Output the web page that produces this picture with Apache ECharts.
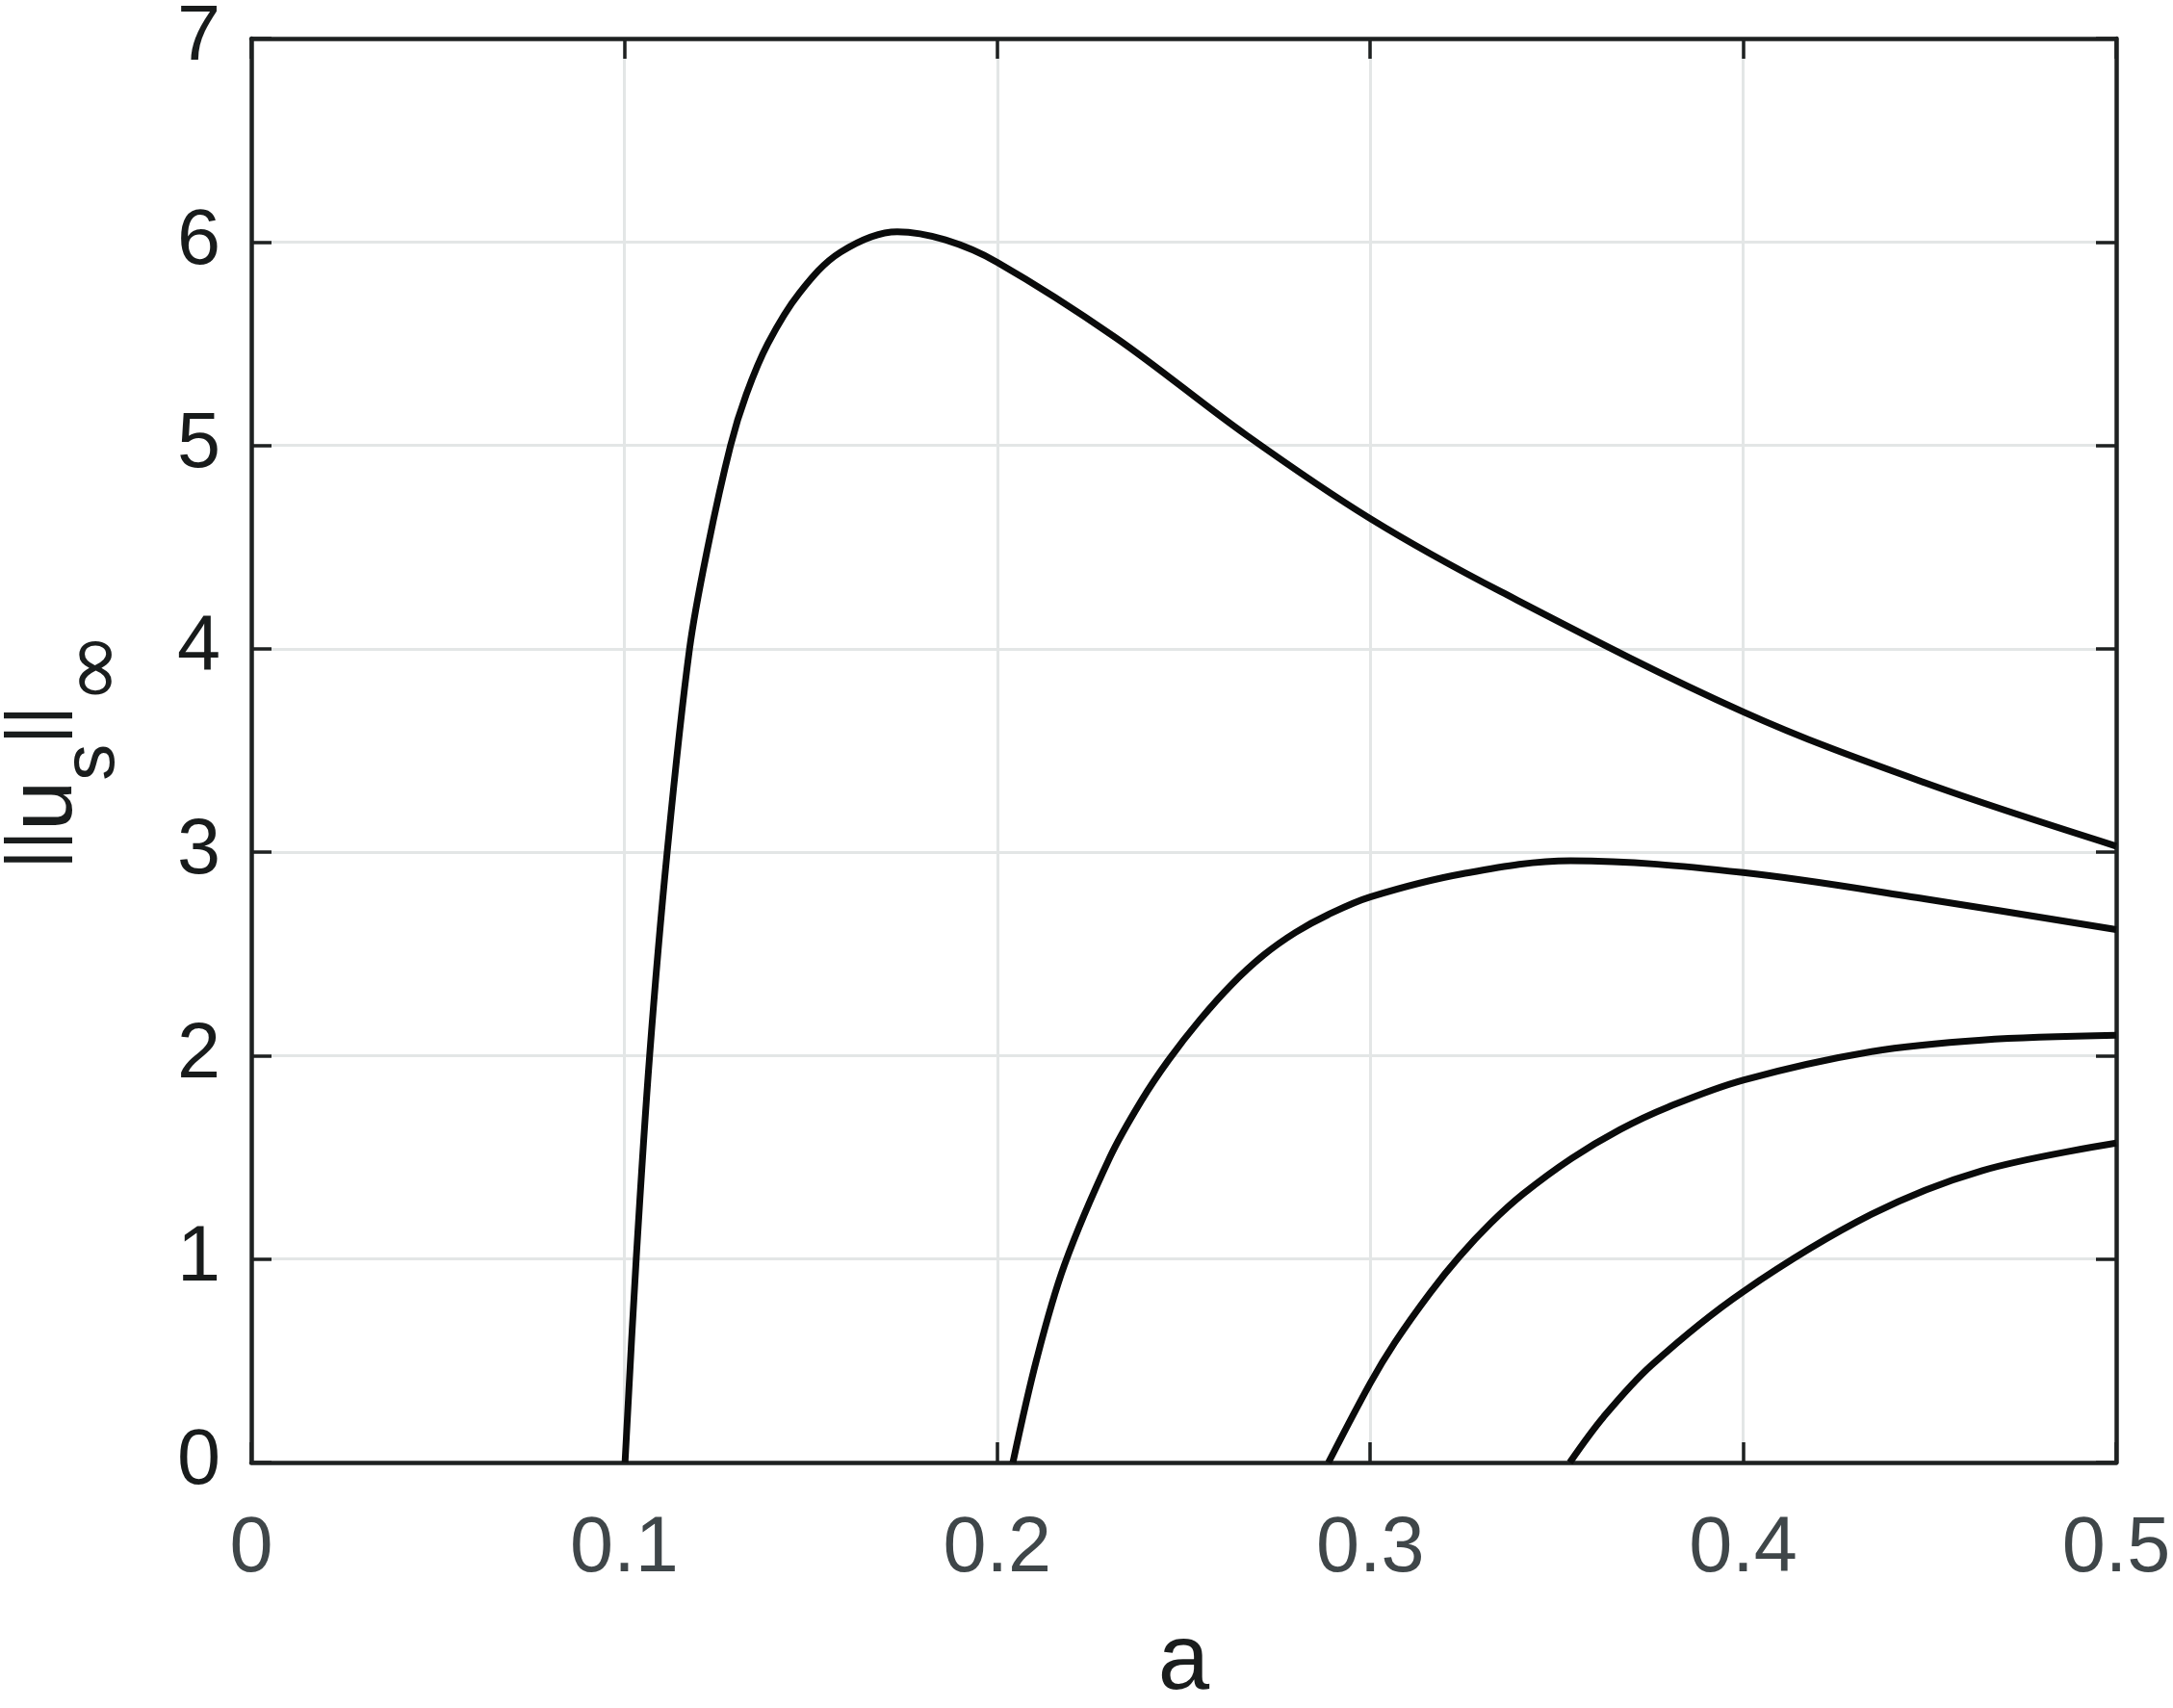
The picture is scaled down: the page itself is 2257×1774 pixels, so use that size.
<!DOCTYPE html>
<html>
<head>
<meta charset="utf-8">
<script src="https://cdn.jsdelivr.net/npm/echarts@6/dist/echarts.min.js"></script>
<style>
html,body{margin:0;padding:0;background:#ffffff;}
#chart{width:2257px;height:1774px;}
</style>
</head>
<body>
<div id="chart"></div>
<script>
// x-axis and y-axis ranges / ticks
const xRange = [0, 0.5, 0.1];
const yRange = [0, 7, 1];

// Branch 1 (tallest)
const branch1 = [
  [0.1002, 0], [0.1032, 1.0], [0.1068, 2.0], [0.1115, 3.0], [0.1175, 4.0],
  [0.1224, 4.5], [0.1285, 5.0], [0.1327, 5.25], [0.1385, 5.5], [0.147, 5.75],
  [0.158, 5.95], [0.1732, 6.05], [0.1861, 6.01], [0.2, 5.9], [0.2317, 5.53],
  [0.2668, 5.05], [0.3, 4.64], [0.3351, 4.28], [0.4, 3.69], [0.4489, 3.34],
  [0.5, 3.03]
];
// Branch 2
const branch2 = [
  [0.2042, 0], [0.2106, 0.51], [0.218, 0.97], [0.2302, 1.5], [0.2387, 1.78],
  [0.246, 1.98], [0.2542, 2.173], [0.2628, 2.349], [0.2714, 2.494], [0.28, 2.606],
  [0.2886, 2.692], [0.3, 2.78], [0.3248, 2.894], [0.3537, 2.958], [0.4, 2.9],
  [0.4489, 2.77], [0.5, 2.62]
];
// Branch 3
const branch3 = [
  [0.2888, 0], [0.3, 0.39], [0.3066, 0.59], [0.3161, 0.835], [0.3238, 1.01],
  [0.3324, 1.178], [0.341, 1.32], [0.354, 1.495], [0.3669, 1.636], [0.3798, 1.747],
  [0.4, 1.88], [0.4344, 2.02], [0.4641, 2.077], [0.5, 2.1]
];
// Branch 4
const branch4 = [
  [0.3535, 0], [0.3626, 0.225], [0.3755, 0.48], [0.4, 0.84],
  [0.4344, 1.22], [0.4641, 1.435], [0.5, 1.57]
];

const FONT = '"Liberation Sans", Arial, Helvetica, sans-serif';
const AXIS_COLOR = '#1e2121';
const GRID_COLOR = '#e3e6e6';
const CURVE_COLOR = '#0a0b0b';
const TEXT_DARK = '#1a1d1d';

const chart = echarts.init(document.getElementById('chart'), null, {renderer: 'canvas'});

function boxAxis(kind, pos, isMain) {
  const r = kind === 'x' ? xRange : yRange;
  const ax = {
    type: 'value',
    position: pos,
    min: r[0], max: r[1], interval: r[2],
    axisLine: {show: true, onZero: false, lineStyle: {color: AXIS_COLOR, width: 4.5}},
    axisTick: {show: true, inside: true, length: 21, lineStyle: {color: AXIS_COLOR, width: 3.5}},
    axisLabel: {show: false},
    splitLine: {show: false}
  };
  if (isMain) {
    ax.splitLine = {show: true, lineStyle: {color: GRID_COLOR, width: 3}};
    if (kind === 'x') {
      ax.axisLabel = {show: true, margin: 50, fontSize: 81, color: '#3f4649', fontFamily: FONT};
      ax.name = 'a';
      ax.nameLocation = 'middle';
      ax.nameGap = 161;
      ax.nameTextStyle = {fontSize: 96, color: TEXT_DARK, fontFamily: FONT};
    } else {
      ax.axisLabel = {show: true, margin: 32, fontSize: 81, color: '#181b1b', fontFamily: FONT};
      ax.name = '{b|||}{m|u}{s|s}{b|||}{i|∞}';
      ax.nameLocation = 'middle';
      ax.nameRotate = 90;
      ax.nameGap = 113;
      ax.nameTextStyle = {
        fontFamily: FONT,
        color: TEXT_DARK,
        rich: {
          b: {fontSize: 76, fontFamily: FONT, color: TEXT_DARK, verticalAlign: 'top', padding: [0, 0, 0, 0]},
          m: {fontSize: 94, fontFamily: FONT, color: TEXT_DARK, verticalAlign: 'top', padding: [1, 0, 0, 0]},
          s: {fontSize: 76, fontFamily: FONT, color: TEXT_DARK, verticalAlign: 'top', padding: [59, 0, 0, 0]},
          i: {fontSize: 90, fontFamily: '"DejaVu Sans", sans-serif', color: TEXT_DARK, verticalAlign: 'top', padding: [58, 0, 0, 2]}
        }
      };
    }
  }
  return ax;
}

function curve(data) {
  return {
    type: 'line',
    data: data,
    xAxisIndex: 0,
    yAxisIndex: 0,
    showSymbol: false,
    smooth: 0.35,
    lineStyle: {color: CURVE_COLOR, width: 7},
    itemStyle: {color: CURVE_COLOR},
    z: 3,
    silent: true,
    animation: false
  };
}

chart.setOption({
  backgroundColor: '#ffffff',
  animation: false,
  grid: {left: 261, right: 59, top: 40, bottom: 255, containLabel: false, outerBoundsMode: 'none'},
  xAxis: [boxAxis('x', 'bottom', true), boxAxis('x', 'top', false)],
  yAxis: [boxAxis('y', 'left', true), boxAxis('y', 'right', false)],
  series: [curve(branch1), curve(branch2), curve(branch3), curve(branch4)]
});
</script>
</body>
</html>
